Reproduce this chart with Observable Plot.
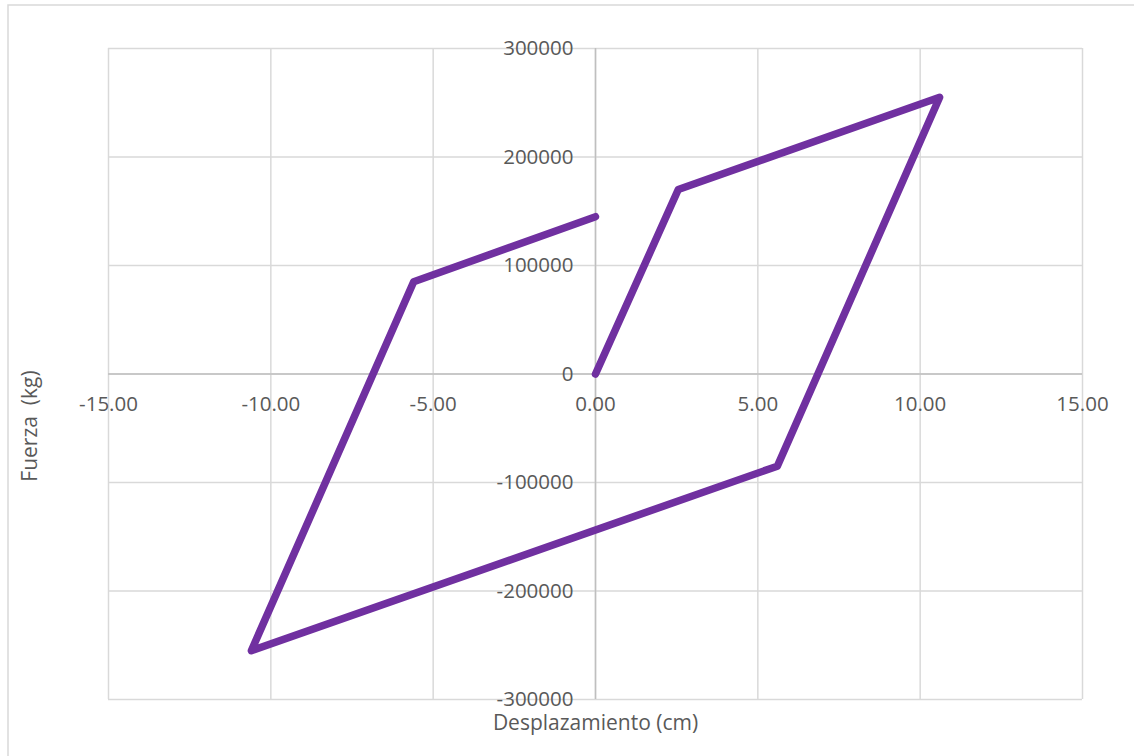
<!DOCTYPE html>
<html>
<head>
<meta charset="utf-8">
<script src="https://cdn.jsdelivr.net/npm/d3@7"></script>
<script src="https://cdn.jsdelivr.net/npm/@observablehq/plot@0.6"></script>
<style>
  html, body { margin: 0; padding: 0; background: #fff; }
  #chart { position: relative; width: 1134px; height: 756px; overflow: hidden; }
</style>
</head>
<body>
<div id="chart"></div>
<script>
// Data (hysteresis loop)
const displacement = [0, 2.55, 10.6, 5.6, -10.6, -5.6, 0];
const force = [0, 170000, 255000, -85000, -255000, 85000, 145000];

const xTicks = [-15, -10, -5, 0, 5, 10, 15];
const xTickLabels = ["-15.00", "-10.00", "-5.00", "0.00", "5.00", "10.00", "15.00"];
const yTicks = [-300000, -200000, -100000, 0, 100000, 200000, 300000];
const yTickLabels = ["-300000", "-200000", "-100000", "0", "100000", "200000", "300000"];

const xTitle = "Desplazamiento (cm)";
const yTitle = "Fuerza  (kg)";

const points = displacement.map((d, i) => ({x: d, y: force[i]}));
const xTickData = xTicks.map((t, i) => ({t, label: xTickLabels[i]}));
const yTickData = yTicks.map((t, i) => ({t, label: yTickLabels[i]}));

const textColor = "#595959";
const font = "'Open Sans', 'Liberation Sans', sans-serif";

const plot = Plot.plot({
  width: 1134,
  height: 756,
  marginLeft: 108,
  marginRight: 52,
  marginTop: 48,
  marginBottom: 57,
  style: {fontFamily: font, background: "#fff"},
  x: {domain: [-15, 15], axis: null},
  y: {domain: [-300000, 300000], axis: null},
  marks: [
    Plot.ruleX(xTicks, {stroke: "#d9d9d9", strokeWidth: 1.5}),
    Plot.ruleY(yTicks, {stroke: "#d9d9d9", strokeWidth: 1.5}),
    Plot.ruleX([0], {stroke: "#bfbfbf", strokeWidth: 1.5}),
    Plot.ruleY([0], {stroke: "#bfbfbf", strokeWidth: 1.5}),
    Plot.text(yTickData, {x: () => 0, y: "t", text: "label", textAnchor: "end", dx: -22, fill: textColor, fontSize: 20.5}),
    Plot.text(xTickData, {x: "t", y: () => 0, text: "label", dy: 30, fill: textColor, fontSize: 20.5}),
    Plot.line(points, {x: "x", y: "y", stroke: "#7030A0", strokeWidth: 7.5, strokeLinecap: "round", strokeLinejoin: "round"}),
    Plot.text([xTitle], {frameAnchor: "bottom", dy: 30, text: d => d, fill: textColor, fontSize: 21})
  ]
});

const svg = d3.select(plot);
svg.insert("rect", ":first-child")
  .attr("x", 8).attr("y", 5)
  .attr("width", 1140).attr("height", 760)
  .attr("fill", "#fff")
  .attr("stroke", "#d9d9d9")
  .attr("stroke-width", 1.5);

svg.append("text")
  .attr("transform", "translate(29,426) rotate(-90)")
  .attr("text-anchor", "middle")
  .attr("dominant-baseline", "central")
  .attr("fill", textColor)
  .attr("font-family", font)
  .attr("font-size", 21)
  .text(yTitle);

document.getElementById("chart").appendChild(plot);
</script>
</body>
</html>
